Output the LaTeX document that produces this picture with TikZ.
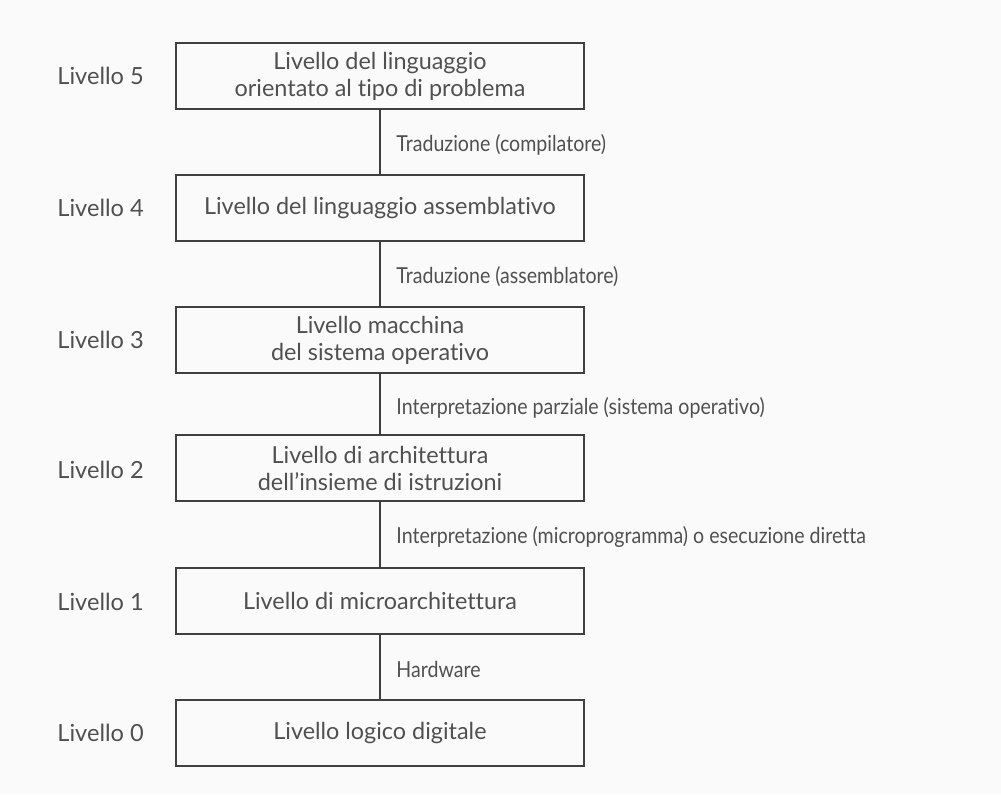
\documentclass[tikz,border=0pt]{standalone}
\usepackage{fontspec}
\setmainfont{Lato}[Ligatures={NoCommon}]
\newfontfamily\narrowlato{Lato}[Ligatures={NoCommon}, FakeStretch=0.89]
\begin{document}
\begin{tikzpicture}[x=0.5pt,y=-0.5pt,
  level/.style={draw=linecol, line width=1.2pt, minimum width=204pt, minimum height=33pt,
    align=center, inner sep=0pt, text=txtcol, font=\fontsize{11.7}{13.5}\selectfont},
  num/.style={anchor=west, text=txtcol, inner sep=0pt, font=\fontsize{11.8}{13}\selectfont},
  side/.style={anchor=west, text=txtcol, inner sep=0pt, font=\narrowlato\fontsize{11}{12}\selectfont},
  link/.style={draw=linecol, line width=1.1pt}]
\definecolor{linecol}{HTML}{404040}
\definecolor{txtcol}{HTML}{505050}
\definecolor{bg}{HTML}{FAFAFA}
\fill[bg] (0,0) rectangle (1001,794);
\useasboundingbox (0,0) rectangle (1001,794);

% the six levels
\node[level] (b5) at (380,76)  {Livello del linguaggio\\orientato al tipo di problema};
\node[level] (b4) at (380,208) {Livello del linguaggio assemblativo};
\node[level] (b3) at (380,340) {Livello macchina\\del sistema operativo};
\node[level] (b2) at (380,468) {Livello di architettura\\dell'insieme di istruzioni};
\node[level] (b1) at (380,601) {Livello di microarchitettura};
\node[level] (b0) at (380,733) {Livello logico digitale};

% level numbers on the left
\node[num] (n5) at (57,76)  {Livello 5};
\node[num] (n4) at (57,208) {Livello 4};
\node[num] (n3) at (57,340) {Livello 3};
\node[num] (n2) at (57,470) {Livello 2};
\node[num] (n1) at (57,602) {Livello 1};
\node[num] (n0) at (57,733) {Livello 0};

% links between adjacent levels
\draw[link] (b5.south) -- (b4.north);
\draw[link] (b4.south) -- (b3.north);
\draw[link] (b3.south) -- (b2.north);
\draw[link] (b2.south) -- (b1.north);
\draw[link] (b1.south) -- (b0.north);

% how each level is realised by the one below
\node[side] (t5) at (396,145) {Traduzione (compilatore)};
\node[side] (t4) at (396,277) {Traduzione (assemblatore)};
\node[side] (t3) at (396,408) {Interpretazione parziale (sistema operativo)};
\node[side] (t2) at (396,537) {Interpretazione (microprogramma) o esecuzione diretta};
\node[side] (t1) at (396,669) {Hardware};
\end{tikzpicture}
\end{document}
